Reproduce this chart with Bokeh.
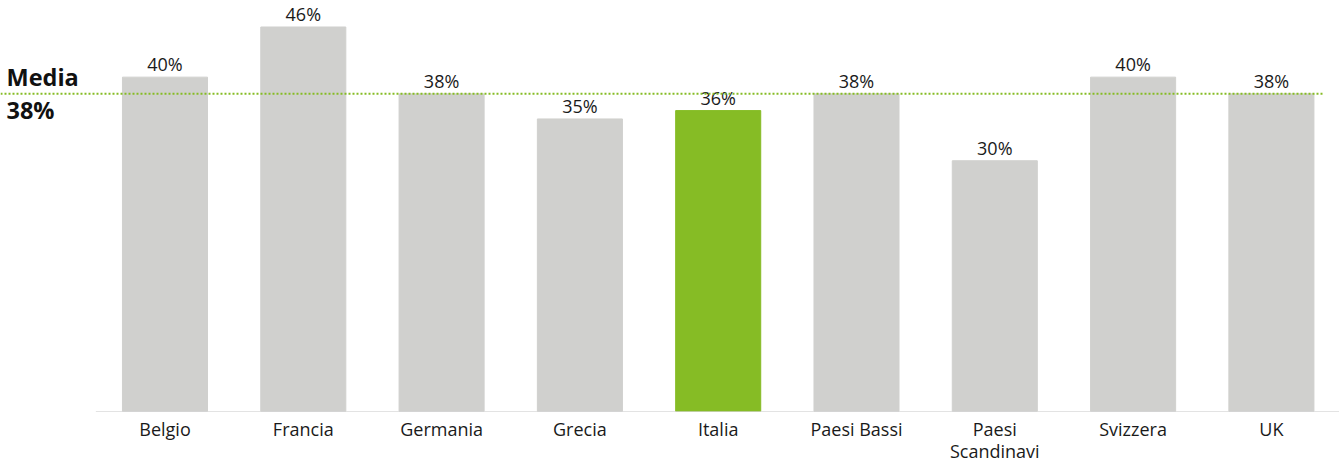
from bokeh.plotting import figure
from bokeh.models import Range1d, FixedTicker, ColumnDataSource
from bokeh.core.properties import value
from bokeh.embed import file_html
from bokeh.resources import INLINE

categories = ["Belgio", "Francia", "Germania", "Grecia", "Italia", "Paesi Bassi", "Paesi\nScandinavi", "Svizzera", "UK"]
values = [40, 46, 38, 35, 36, 38, 30, 40, 38]
value_labels = ["40%", "46%", "38%", "35%", "36%", "38%", "30%", "40%", "38%"]
highlight = "Italia"
mean_value = 38
mean_label = "38%"

GREY = "#d0d0ce"
GREEN = "#86bc25"
FONT = "Open Sans"

xs = list(range(len(categories)))
colors = [GREEN if c == highlight else GREY for c in categories]
src = ColumnDataSource(dict(x=xs, top=values, color=colors, label=value_labels))

x_start, x_end = -1.1894, 8.4924
p = figure(width=1339, height=465, output_backend="svg", toolbar_location=None,
           x_range=Range1d(x_start, x_end), y_range=Range1d(0, 49.17),
           y_axis_location=None, min_border_left=0, min_border_right=0,
           min_border_top=0, min_border_bottom=52)
p.outline_line_color = None
p.grid.visible = False

p.vbar(x="x", top="top", width=0.615, color="color", source=src)
p.text(x="x", y="top", text="label", source=src, text_align="center",
       text_baseline="middle", y_offset=-13, text_font=value(FONT),
       text_font_size="18px", text_color="#1a1a1a")

# base line (axis line)
p.segment(x0=[-0.5], y0=[0], x1=[x_end], y1=[0], line_color="#c8c8c8", line_width=1)

# mean line
p.segment(x0=[x_start], y0=[mean_value], x1=[8.37], y1=[mean_value],
          line_color=GREEN, line_width=2, line_dash="2 2")
p.text(x=[x_start], y=[mean_value], text=["Media"], text_align="left",
       text_baseline="middle", x_offset=6, y_offset=-17, text_font=value(FONT),
       text_font_style="bold", text_font_size="23.5px", text_color="#111111")
p.text(x=[x_start], y=[mean_value], text=[mean_label], text_align="left",
       text_baseline="middle", x_offset=6, y_offset=16, text_font=value(FONT),
       text_font_style="bold", text_font_size="23.5px", text_color="#111111")

ax = p.xaxis[0]
ax.ticker = FixedTicker(ticks=xs)
ax.major_label_overrides = {i: c for i, c in zip(xs, categories)}
ax.axis_line_color = None
ax.major_tick_line_color = None
ax.minor_tick_line_color = None
ax.major_tick_out = 0
ax.major_tick_in = 0
ax.major_label_standoff = 5
ax.major_label_text_font = FONT
ax.major_label_text_font_size = "18px"
ax.major_label_text_line_height = 0.92
ax.major_label_text_color = "#1a1a1a"

open("out.html", "w").write(file_html(p, INLINE))
